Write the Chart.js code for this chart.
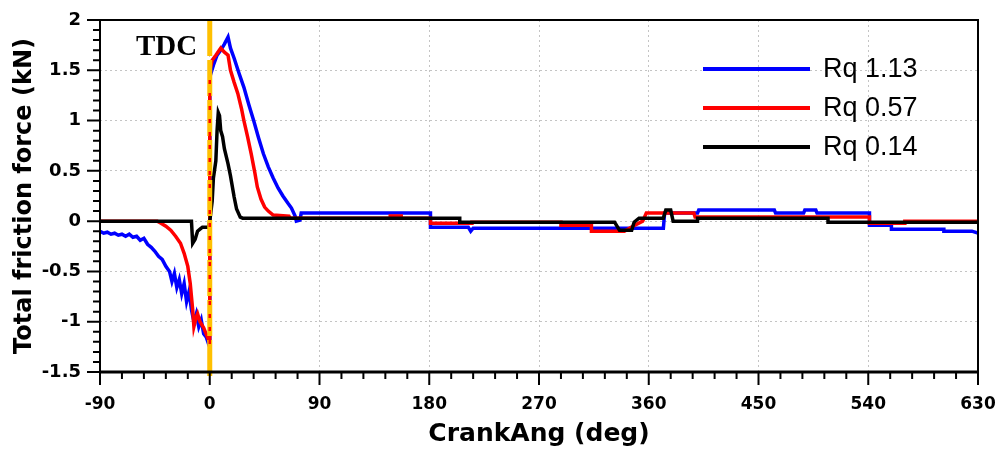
<!DOCTYPE html>
<html>
<head>
<meta charset="utf-8">
<script src="https://cdn.jsdelivr.net/npm/chart.js@4.4.1/dist/chart.umd.min.js"></script>
<style>
  body { margin: 0; background: #fff; }
  #wrap { width: 1000px; height: 453px; }
</style>
</head>
<body>
<div id="wrap"><canvas id="myChart" width="1000" height="453"></canvas></div>
<script>
// series labels
const seriesLabels = ['Rq 1.13', 'Rq 0.57', 'Rq 0.14'];

// Rq 1.13 (blue)
const blueAngles = [-90, -87, -84, -81, -78, -75, -72, -69, -66, -63, -60, -57, -54, -51, -48, -45, -42, -39, -36, -33, -31, -29, -27, -25, -23, -21, -19, -17, -15, -13, -11, -9, -7, -5, -3, -1, 0,
  0, 3, 6, 9, 12, 15, 17, 20, 24, 28, 32, 36, 40, 44, 48, 52, 56, 60, 64, 67, 70, 71, 74, 75,
  181, 181, 212, 214, 216, 372, 373, 400, 401, 463, 464, 487, 488, 497, 498, 541, 541, 559, 559, 602, 602, 625, 630];
const blueForces = [-0.10, -0.12, -0.11, -0.13, -0.12, -0.14, -0.13, -0.15, -0.13, -0.16, -0.15, -0.19, -0.17, -0.23, -0.26, -0.30, -0.35, -0.38, -0.45, -0.50, -0.60, -0.52, -0.66, -0.58, -0.72, -0.62, -0.80, -0.70, -0.88, -1.00, -0.92, -1.05, -0.98, -1.12, -1.15, -1.22, -1.25,
  1.43, 1.55, 1.65, 1.70, 1.76, 1.83, 1.72, 1.62, 1.47, 1.33, 1.16, 1.00, 0.83, 0.67, 0.54, 0.43, 0.33, 0.25, 0.18, 0.13, 0.05, 0.00, 0.01, 0.08,
  0.08, -0.06, -0.06, -0.10, -0.07, -0.07, 0.08, 0.08, 0.11, 0.11, 0.08, 0.08, 0.11, 0.11, 0.08, 0.08, -0.04, -0.04, -0.08, -0.08, -0.10, -0.10, -0.12];

// Rq 0.57 (red)
const redAngles = [-90, -43, -40, -36, -32, -28, -24, -21, -18, -16, -15, -14, -13, -11, -10, -8, -5, -3, -1, 0,
  0, 2, 5, 9, 12, 15, 17, 20, 23, 26, 28, 31, 34, 37, 39, 42, 45, 48, 52, 65, 66,
  148, 148, 157, 157, 181, 181, 215, 215, 288, 288, 313, 313, 340, 347, 355, 358, 397, 398, 541, 541, 570, 570, 630];
const redForces = [0, 0, -0.02, -0.05, -0.09, -0.15, -0.22, -0.32, -0.45, -0.62, -0.75, -0.88, -1.05, -0.95, -0.92, -1.00, -1.06, -1.12, -1.18, -1.20,
  1.50, 1.60, 1.65, 1.72, 1.68, 1.65, 1.50, 1.38, 1.27, 1.12, 1.00, 0.84, 0.67, 0.48, 0.34, 0.22, 0.14, 0.10, 0.06, 0.05, 0.03,
  0.03, 0.05, 0.05, 0.03, 0.03, -0.02, -0.02, -0.01, -0.01, -0.04, -0.04, -0.10, -0.10, -0.05, 0.00, 0.08, 0.08, 0.04, 0.04, -0.02, -0.02, 0, 0];

// Rq 0.14 (black)
const blackAngles = [-90, -15, -14, -12, -10, -8, -6, -1, 0, 2, 3, 5, 6, 7, 8, 9, 10.5, 12, 15, 17, 20, 22, 25, 27,
  205, 205, 332, 336, 346, 348, 352, 372, 374, 378, 380, 400, 400, 507, 507, 630];
const blackForces = [0, 0, -0.22, -0.18, -0.10, -0.08, -0.06, -0.06, 0, 0.20, 0.43, 0.60, 0.90, 1.08, 1.05, 0.90, 0.84, 0.72, 0.57, 0.45, 0.24, 0.12, 0.04, 0.03,
  0.03, -0.01, -0.01, -0.09, -0.09, -0.01, 0.03, 0.03, 0.11, 0.11, 0.00, 0.00, 0.03, 0.03, -0.01, -0.01];

const seriesColors = ['#0000ff', '#ff0000', '#000000'];

// x ticks every 18 deg, labels every 90; y ticks every 0.1, labels every 0.5
const xMin = -90, xMax = 630, xStep = 18, xLabelStep = 90;
const yMin = -1.5, yMax = 2, yStep = 0.1, yLabelStep = 0.5;

function toPoints(xs, ys) {
  return xs.map((x, i) => ({ x: x, y: ys[i] }));
}
function isMajor(v, step) {
  return Math.abs(v / step - Math.round(v / step)) < 1e-6;
}

const extras = {
  id: 'extras',
  afterDatasetsDraw(chart) {
    const ctx = chart.ctx;
    const a = chart.chartArea;
    const x0 = chart.scales.x.getPixelForValue(0);
    ctx.save();
    // TDC line
    ctx.strokeStyle = '#ffc000';
    ctx.lineWidth = 5;
    ctx.setLineDash([36, 4]);
    ctx.beginPath();
    ctx.moveTo(x0, a.top);
    ctx.lineTo(x0, a.bottom + 8);
    ctx.stroke();
    ctx.strokeStyle = '#ff0000';
    ctx.lineWidth = 2.5;
    ctx.setLineDash([4, 9]);
    ctx.beginPath();
    ctx.moveTo(x0, a.top + 60);
    ctx.lineTo(x0, a.bottom - 20);
    ctx.stroke();
    ctx.restore();
  },
  afterDraw(chart) {
    const ctx = chart.ctx;
    const a = chart.chartArea;
    const xs = chart.scales.x, ys = chart.scales.y;
    ctx.save();
    // frame
    ctx.strokeStyle = '#000';
    ctx.lineWidth = 2;
    ctx.strokeRect(a.left, a.top, a.right - a.left, a.bottom - a.top);
    ctx.lineWidth = 3;
    ctx.beginPath();
    ctx.moveTo(a.left, a.bottom);
    ctx.lineTo(a.right, a.bottom);
    ctx.stroke();
    // tick marks
    ctx.lineWidth = 2;
    ctx.beginPath();
    xs.ticks.forEach(t => {
      const p = xs.getPixelForValue(t.value);
      const len = isMajor(t.value, xLabelStep) ? 13 : 7;
      ctx.moveTo(p, a.bottom);
      ctx.lineTo(p, a.bottom + len);
    });
    ys.ticks.forEach(t => {
      const p = ys.getPixelForValue(t.value);
      const len = isMajor(t.value, yLabelStep) ? 13 : 7;
      ctx.moveTo(a.left, p);
      ctx.lineTo(a.left - len, p);
    });
    ctx.stroke();
    // TDC text
    ctx.fillStyle = '#000';
    ctx.font = 'bold 29px "Liberation Serif", "DejaVu Serif", serif';
    ctx.textBaseline = 'middle';
    ctx.textAlign = 'left';
    ctx.fillText('TDC', 136, 48);
    // legend
    const legY = [69, 108, 147];
    ctx.font = '27px "Liberation Sans", Arial, sans-serif';
    chart.data.datasets.forEach((ds, i) => {
      ctx.strokeStyle = ds.borderColor;
      ctx.lineWidth = 4;
      ctx.beginPath();
      ctx.moveTo(703, legY[i]);
      ctx.lineTo(810, legY[i]);
      ctx.stroke();
      ctx.fillStyle = '#000';
      ctx.fillText(ds.label, 823, legY[i] + 1);
    });
    ctx.restore();
  }
};

const ctx = document.getElementById('myChart').getContext('2d');
const myChart = new Chart(ctx, {
  type: 'line',
  data: {
    datasets: [
      { label: seriesLabels[0], data: toPoints(blueAngles, blueForces), borderColor: seriesColors[0], order: 3 },
      { label: seriesLabels[1], data: toPoints(redAngles, redForces), borderColor: seriesColors[1], order: 2 },
      { label: seriesLabels[2], data: toPoints(blackAngles, blackForces), borderColor: seriesColors[2], order: 1 }
    ]
  },
  options: {
    responsive: false,
    animation: false,
    layout: { padding: { top: 20, right: 22, left: 0, bottom: 0 } },
    elements: {
      point: { radius: 0 },
      line: { tension: 0, borderWidth: 3.5, fill: false }
    },
    plugins: { legend: { display: false }, tooltip: { enabled: false } },
    scales: {
      x: {
        type: 'linear',
        min: xMin, max: xMax,
        afterFit: s => { s.height = 81; s.paddingLeft = 0; s.paddingRight = 0; },
        ticks: {
          stepSize: xStep, autoSkip: false, maxRotation: 0, padding: 22,
          color: '#000',
          font: { family: '"DejaVu Sans"', size: 17, weight: 'bold' },
          callback: v => isMajor(v, xLabelStep) ? String(Math.round(v)) : ''
        },
        grid: {
          drawTicks: false,
          lineWidth: 1,
          color: c => (c.tick && isMajor(c.tick.value, xLabelStep) && c.tick.value > xMin && c.tick.value < xMax) ? '#c4c4c4' : 'rgba(0,0,0,0)'
        },
        border: { display: false, dash: [2, 3] },
        title: {
          display: true, text: 'CrankAng (deg)', color: '#000',
          font: { family: '"DejaVu Sans"', size: 25, weight: 'bold' },
          padding: { top: 0, bottom: 4 }
        }
      },
      y: {
        min: yMin, max: yMax,
        afterFit: s => { s.width = 100; s.paddingTop = 0; s.paddingBottom = 0; },
        ticks: {
          stepSize: yStep, autoSkip: false, padding: 19,
          color: '#000',
          font: { family: '"DejaVu Sans"', size: 18, weight: 'bold' },
          callback: v => isMajor(v, yLabelStep) ? String(Math.round(v * 10) / 10) : ''
        },
        grid: {
          drawTicks: false,
          lineWidth: 1,
          color: c => (c.tick && isMajor(c.tick.value, yLabelStep) && c.tick.value > yMin + 1e-6 && c.tick.value < yMax - 1e-6) ? '#c4c4c4' : 'rgba(0,0,0,0)'
        },
        border: { display: false, dash: [2, 3] },
        title: {
          display: true, text: 'Total friction force (kN)', color: '#000',
          font: { family: '"DejaVu Sans"', size: 24, weight: 'bold' },
          padding: { top: 10, bottom: 0 }
        }
      }
    }
  },
  plugins: [extras]
});
</script>
</body>
</html>
